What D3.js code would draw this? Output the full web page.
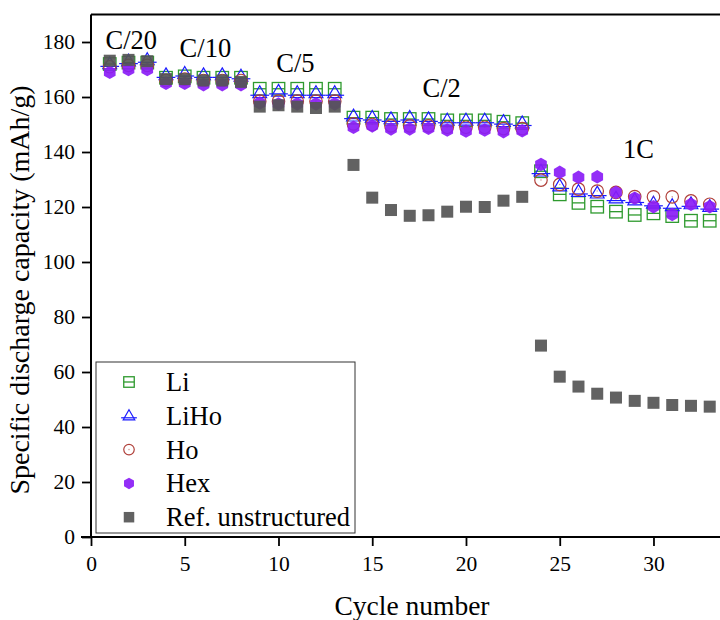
<!DOCTYPE html>
<html>
<head>
<meta charset="utf-8">
<script src="https://cdn.jsdelivr.net/npm/d3@7"></script>
<style>
  body { margin: 0; background: #fff; }
  text { font-family: "Liberation Serif", "Times New Roman", serif; fill: #000; }
</style>
</head>
<body>
<div id="chart"></div>
<script>
// cycle numbers 1..33
const cycles = d3.range(1, 34);

const liVals = [172, 172.5, 172.5, 167, 167.5, 167, 167, 167, 163, 163, 163, 163, 163,
  152.5, 152.5, 152, 152, 152, 151.5, 151.5, 151.5, 151, 150.5,
  133, 124.6, 121.5, 120.1, 118.3, 117.1, 117.7, 116.7, 115, 115];
const lihoVals = [172, 173, 173.5, 168, 168.5, 168, 168, 167.5, 161.5, 162, 161.5, 161.5, 161.5,
  153, 152.5, 152, 152.5, 152, 151.5, 151.5, 151.5, 151, 150.5,
  133, 127.6, 125.6, 125, 123.2, 122.5, 121.3, 120.4, 121.1, 120.1];
const hoVals = [171, 171.5, 171.5, 166, 166.5, 166, 166, 166, 158.5, 158.5, 158.5, 158.5, 158.5,
  150.2, 150, 149.5, 149.5, 149.5, 149, 149, 149, 148.5, 148.5,
  129.8, 128.2, 126.5, 125.8, 125.3, 123.8, 123.7, 123.7, 122.2, 121];
const hexVals = [169, 170, 170, 165, 165, 164.5, 164.5, 164.5, 157.8, 157.5, 157.5, 157.5, 157.5,
  149, 149.5, 148.4, 148.4, 148.6, 148, 147.6, 148, 147.4, 147.7,
  135.5, 132.6, 130.8, 131, 125.3, 123.2, 120.1, 117.3, 121, 120.1];
const refVals = [173.2, 173.5, 173, 166.5, 166.5, 166, 166, 165.5, 156.5, 157, 156.5, 156, 156.5,
  135.3, 123.4, 118.9, 116.8, 117, 118.3, 120.1, 120, 122.3, 123.7,
  69.6, 58.3, 54.7, 52.1, 50.7, 49.5, 48.8, 48, 47.7, 47.4];

const seriesNames = ["Li", "LiHo", "Ho", "Hex", "Ref. unstructured"];
const seriesVals = [liVals, lihoVals, hoVals, hexVals, refVals];

const xTicks = [0, 5, 10, 15, 20, 25, 30];
const yTicks = [0, 20, 40, 60, 80, 100, 120, 140, 160, 180];

// C-rate labels: [text, cycle, capacity at baseline]
const rateLabels = [
  ["C/20", 2.15, 177.5],
  ["C/10", 6.1, 174.5],
  ["C/5", 10.9, 169],
  ["C/2", 18.7, 160],
  ["1C", 29.2, 138]
];

const W = 720, H = 620;
const svg = d3.select("#chart").append("svg")
  .attr("width", W).attr("height", H);

const x = d3.scaleLinear().domain([0, 33.5]).range([91, 719.1]);
const y = d3.scaleLinear().domain([0, 190]).range([537, 14.5]);

// frame top line
svg.append("line")
  .attr("x1", x(0)).attr("x2", W)
  .attr("y1", y(190)).attr("y2", y(190))
  .attr("stroke", "#000").attr("stroke-width", 2);

// x axis
const gx = svg.append("g").attr("transform", `translate(0,${y(0)})`);
gx.call(d3.axisBottom(x).tickValues(d3.range(2.5, 33.5, 5)).tickSize(5).tickFormat(""));
gx.call(d3.axisBottom(x).tickValues(xTicks).tickSize(9).tickPadding(10).tickFormat(d3.format("d")));
gx.selectAll(".domain").attr("stroke-width", 2).attr("d", `M${x(0) - 10},0H${W}`);
gx.selectAll(".tick line").attr("stroke-width", 1.8);
gx.selectAll("text").attr("font-size", 21.5).style("font-family", "Liberation Serif, serif");

// y axis
const gy = svg.append("g").attr("transform", `translate(${x(0)},0)`);
gy.call(d3.axisLeft(y).tickValues(d3.range(10, 190, 20)).tickSize(5).tickFormat(""));
gy.call(d3.axisLeft(y).tickValues(yTicks).tickSize(9).tickPadding(7).tickFormat(d3.format("d")));
gy.selectAll(".domain").attr("stroke-width", 2).attr("d", `M0,${y(190)}V${y(0)}`);
gy.selectAll(".tick line").attr("stroke-width", 1.8);
gy.selectAll("text").attr("font-size", 21.5).style("font-family", "Liberation Serif, serif");

// axis titles
svg.append("text")
  .attr("x", 412).attr("y", 615)
  .attr("text-anchor", "middle")
  .attr("font-size", 27.5)
  .text("Cycle number");
svg.append("text")
  .attr("transform", "translate(29,290) rotate(-90)")
  .attr("text-anchor", "middle")
  .attr("font-size", 28)
  .text("Specific discharge capacity (mAh/g)");

// marker drawers
const colors = ["#2e9a2e", "#1a1aff", "#b0403a", "#8a1cf6", "#555555"];

function drawMarker(g, idx, s) {
  const c = colors[idx];
  if (idx === 0) {
    g.append("rect").attr("x", -s / 2).attr("y", -s / 2).attr("width", s).attr("height", s)
      .attr("fill", "none").attr("stroke", c).attr("stroke-width", 1.3);
    g.append("line").attr("x1", -s / 2).attr("x2", s / 2).attr("y1", 0).attr("y2", 0)
      .attr("stroke", c).attr("stroke-width", 1.3);
  } else if (idx === 1) {
    const h = s * 0.95;
    g.append("path")
      .attr("d", `M0,${-h * 0.6}L${s * 0.55},${h * 0.4}L${-s * 0.55},${h * 0.4}Z`)
      .attr("fill", "none").attr("stroke", c).attr("stroke-width", 1.2);
    g.append("line").attr("x1", -s * 0.75).attr("x2", s * 0.75).attr("y1", h * 0.2).attr("y2", h * 0.2)
      .attr("stroke", c).attr("stroke-width", 1.2);
  } else if (idx === 2) {
    g.append("circle").attr("r", s / 2)
      .attr("fill", "none").attr("stroke", c).attr("stroke-width", 1.2);
    g.append("circle").attr("r", 0.8).attr("fill", c).attr("opacity", 0.5);
  } else if (idx === 3) {
    const r = s / 2 + 0.5;
    const pts = d3.range(6).map(k => {
      const a = Math.PI / 6 + k * Math.PI / 3;
      return [r * Math.cos(a), r * Math.sin(a)];
    });
    g.append("path").attr("d", "M" + pts.join("L") + "Z")
      .attr("fill", c).attr("opacity", 0.92);
  } else {
    g.append("rect").attr("x", -s / 2).attr("y", -s / 2).attr("width", s).attr("height", s)
      .attr("fill", c).attr("opacity", 0.92);
  }
}

// data markers
seriesVals.forEach((vals, idx) => {
  const g = svg.append("g").attr("class", "series-" + idx);
  g.selectAll("g").data(cycles.map((cy, i) => [cy, vals[i]]))
    .join("g")
    .attr("transform", d => `translate(${x(d[0])},${y(d[1])})`)
    .each(function() { drawMarker(d3.select(this), idx, idx === 4 ? 12 : 12.5); });
});

// rate labels
svg.selectAll(".rate").data(rateLabels).join("text")
  .attr("class", "rate")
  .attr("x", d => x(d[1])).attr("y", d => y(d[2]))
  .attr("text-anchor", "middle")
  .attr("font-size", 26.5)
  .text(d => d[0]);

// legend
const leg = svg.append("g");
leg.append("rect")
  .attr("x", 96).attr("y", 362).attr("width", 259).attr("height", 171)
  .attr("fill", "#fff").attr("stroke", "#333").attr("stroke-width", 1);
seriesNames.forEach((name, i) => {
  const cy = 382 + i * 33.8;
  const mg = leg.append("g").attr("transform", `translate(129,${cy})`);
  drawMarker(mg, i, 10.5);
  leg.append("text").attr("x", 166).attr("y", cy + 9)
    .attr("font-size", 26.5).text(name);
});
</script>
</body>
</html>
